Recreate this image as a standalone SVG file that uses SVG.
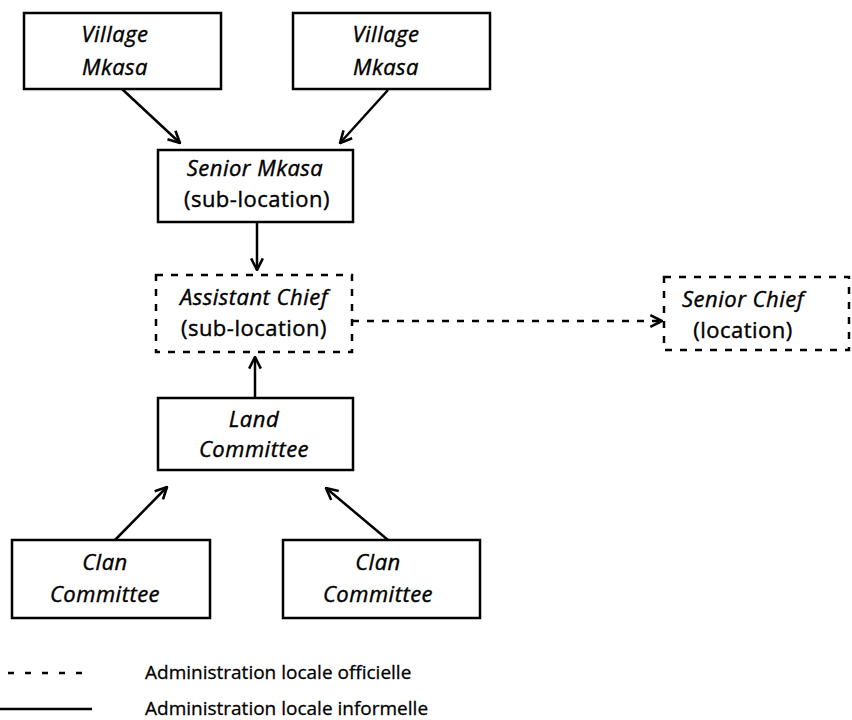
<svg xmlns="http://www.w3.org/2000/svg" width="852" height="720" viewBox="0 0 852 720">
<defs>
<style>
.box{fill:#fff;stroke:#000;stroke-width:2.5}
.dbox{fill:#fff;stroke:#000;stroke-width:2.5;stroke-dasharray:7 8}
.t{font-family:"Open Sans","DejaVu Sans",sans-serif;font-style:italic;font-size:22px;letter-spacing:0.5px;fill:#000;stroke:#000;stroke-width:0.4;text-anchor:middle}
.u{font-style:normal}
.lg{font-family:"Open Sans","DejaVu Sans",sans-serif;font-size:19px;fill:#000;stroke:#000;stroke-width:0.3}
.c{fill:none;stroke:#000;stroke-width:2.5}
.dc{fill:none;stroke:#000;stroke-width:2.5;stroke-dasharray:7 8}
</style>
<marker id="ah" viewBox="0 0 12 12" refX="11" refY="6" markerWidth="14" markerHeight="14" markerUnits="userSpaceOnUse" orient="auto">
<path d="M1,1 L11,6 L1,11" fill="none" stroke="#000" stroke-width="2.2"/>
</marker>
</defs>
<rect width="852" height="720" fill="#fff"/>
<g id="connectors">
<line class="c" x1="122" y1="89" x2="180" y2="143" marker-end="url(#ah)"/>
<line class="c" x1="388" y1="90" x2="340" y2="143" marker-end="url(#ah)"/>
<line class="c" x1="257" y1="222" x2="257" y2="270" marker-end="url(#ah)"/>
<line class="dc" x1="352" y1="321" x2="662" y2="321" marker-end="url(#ah)"/>
<line class="c" x1="255" y1="398" x2="255" y2="357" marker-end="url(#ah)"/>
<line class="c" x1="115" y1="540" x2="167" y2="487" marker-end="url(#ah)"/>
<line class="c" x1="388" y1="540" x2="326" y2="488" marker-end="url(#ah)"/>
</g>
<g id="village1">
<rect class="box" x="24" y="13" width="197" height="76"/>
<text class="t" x="115" y="42">Village</text>
<text class="t" x="115" y="75">Mkasa</text>
</g>
<g id="village2">
<rect class="box" x="293" y="13" width="197" height="76"/>
<text class="t" x="386" y="42">Village</text>
<text class="t" x="386" y="75">Mkasa</text>
</g>
<g id="senior-mkasa">
<rect class="box" x="158" y="150" width="195" height="72"/>
<text class="t" x="255" y="176">Senior Mkasa</text>
<text class="t u" x="257" y="207">(sub-location)</text>
</g>
<g id="assistant-chief">
<rect class="dbox" x="156" y="275" width="196" height="77"/>
<text class="t" x="254" y="305">Assistant Chief</text>
<text class="t u" x="254" y="336">(sub-location)</text>
</g>
<g id="senior-chief">
<rect class="dbox" x="664" y="277" width="185" height="73"/>
<text class="t" x="743" y="307">Senior Chief</text>
<text class="t u" x="743" y="338">(location)</text>
</g>
<g id="land-committee">
<rect class="box" x="158" y="398" width="195" height="72"/>
<text class="t" x="254" y="427">Land</text>
<text class="t" x="254" y="457">Committee</text>
</g>
<g id="clan1">
<rect class="box" x="12" y="540" width="198" height="78"/>
<text class="t" x="105" y="570">Clan</text>
<text class="t" x="105" y="602">Committee</text>
</g>
<g id="clan2">
<rect class="box" x="283" y="540" width="197" height="78"/>
<text class="t" x="378" y="570">Clan</text>
<text class="t" x="378" y="602">Committee</text>
</g>
<g id="legend">
<line class="dc" x1="8" y1="673" x2="92" y2="673" style="stroke-dasharray:6 11"/>
<text class="lg" x="145" y="679">Administration locale officielle</text>
<line class="c" x1="0" y1="709" x2="92" y2="709"/>
<text class="lg" x="145" y="715">Administration locale informelle</text>
</g>
</svg>
